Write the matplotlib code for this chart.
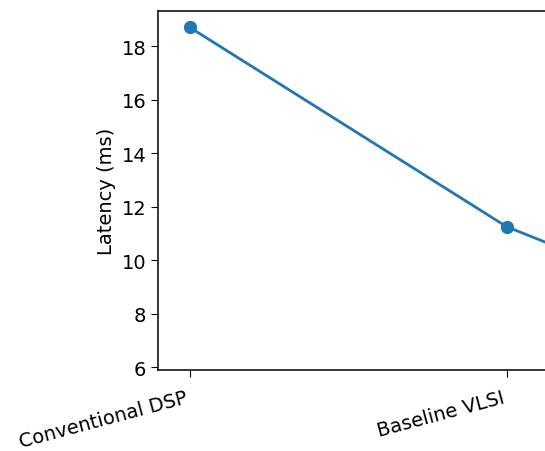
import matplotlib
matplotlib.use("Agg")
import matplotlib.pyplot as plt

architectures = ["Conventional DSP", "Baseline VLSI", "Optimized VLSI"]
latency_ms = [18.7, 11.25, 6.5]

plt.rcParams.update({
    "font.size": 14,
    "xtick.major.size": 5,
    "ytick.major.size": 5,
    "xtick.major.pad": 8,
    "axes.linewidth": 1.1,
})

W, H = 545, 452
fig = plt.figure(figsize=(W / 100, H / 100), dpi=100)
# the reference is a crop of a wider figure: the axes run past the right edge
ax = fig.add_axes([158 / W, (H - 371) / H, 697 / W, 359 / H])

ax.plot(architectures, latency_ms, marker="o", color="C0", linewidth=2, markersize=8.5)
ax.set_ylabel("Latency (ms)")
# title sits above the crop; only its descenders peek in at the top edge
ax.set_title("Latency Comparison by Processing Strategy", pad=17)
plt.setp(ax.get_xticklabels(), rotation=15, ha="right")

fig.savefig("out.png", dpi=100)
